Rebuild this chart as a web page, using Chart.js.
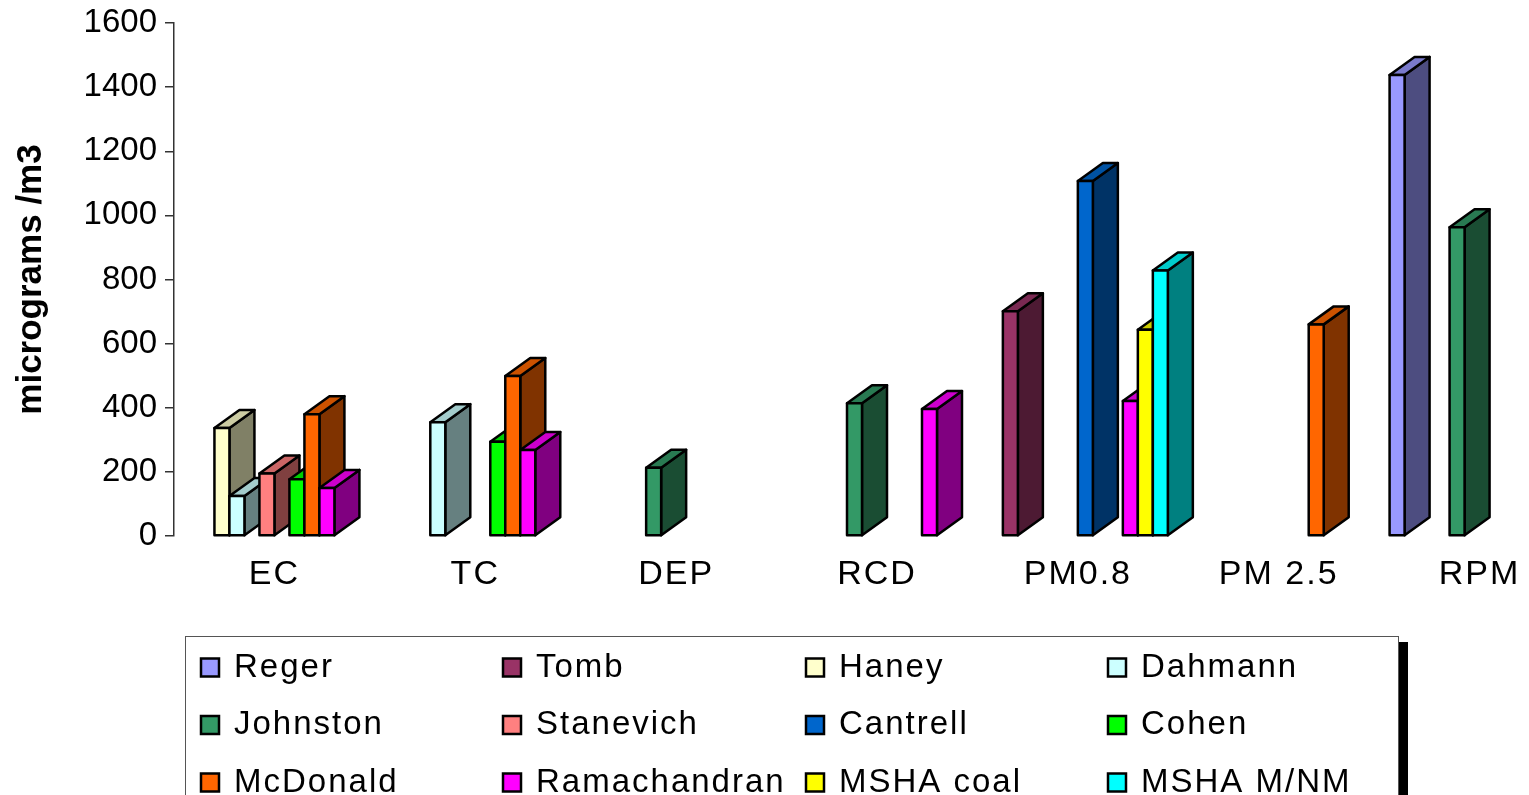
<!DOCTYPE html>
<html>
<head>
<meta charset="utf-8">
<title>Particulate concentrations by study</title>
<script src="https://cdn.jsdelivr.net/npm/chart.js@4.4.1/dist/chart.umd.min.js"></script>
<style>
  html, body { margin: 0; padding: 0; background: #fff; overflow: hidden; }
  canvas { display: block; }
</style>
</head>
<body>
<canvas id="chart" width="1600" height="795"></canvas>
<script>
// Measurement categories along the horizontal axis
const categories = ['EC', 'TC', 'DEP', 'RCD', 'PM0.8', 'PM 2.5', 'RPM'];

// Concentrations (micrograms / m3) per study, one entry per category; null = not measured
const reger        = [null, null, null, null, null, null, 1438];
const tomb         = [null, null, null, null, 701,  null, null];
const haney        = [337,  null, null, null, null, null, null];
const dahmann      = [125,  355,  null, null, null, null, null];
const johnston     = [null, null, 213,  414,  null, null, 963];
const stanevich    = [195,  null, null, null, null, null, null];
const cantrell     = [null, null, null, null, 1107, null, null];
const cohen        = [177,  294,  null, null, null, null, null];
const mcdonald     = [380,  499,  null, null, null, 660,  null];
const ramachandran = [150,  268,  null, 396,  421,  null, null];
const mshaCoal     = [null, null, null, null, 643,  null, null];
const mshaMNM      = [null, null, null, null, 828,  null, null];

const seriesNames = ['Reger', 'Tomb', 'Haney', 'Dahmann', 'Johnston', 'Stanevich',
                     'Cantrell', 'Cohen', 'McDonald', 'Ramachandran', 'MSHA coal', 'MSHA M/NM'];
const seriesValues = [reger, tomb, haney, dahmann, johnston, stanevich,
                      cantrell, cohen, mcdonald, ramachandran, mshaCoal, mshaMNM];

// Value axis ticks
const yTickValues = [0, 200, 400, 600, 800, 1000, 1200, 1400, 1600];

// Front-face colours of each series
const frontColors = ['#9999FF', '#993366', '#FFFFCC', '#CCFFFF', '#339966', '#FF8080',
                     '#0066CC', '#00FF00', '#FF6600', '#FF00FF', '#FFFF00', '#00FFFF'];

const FONT = "'Liberation Sans', Arial, Helvetica, sans-serif";

function shade(hex, f) {
  const n = parseInt(hex.slice(1), 16);
  const r = Math.round(((n >> 16) & 255) * f);
  const g = Math.round(((n >> 8) & 255) * f);
  const b = Math.round((n & 255) * f);
  return 'rgb(' + r + ',' + g + ',' + b + ')';
}

// Category axis whose labels are drawn with a little extra tracking
class SpacedCategoryScale extends Chart.CategoryScale {
  drawLabels(chartArea) {
    const ctx = this.ctx;
    ctx.save();
    ctx.letterSpacing = '2px';
    super.drawLabels(chartArea);
    ctx.restore();
  }
}
SpacedCategoryScale.id = 'spacedCategory';
SpacedCategoryScale.defaults = Chart.CategoryScale.defaults;
Chart.register(SpacedCategoryScale);

// Extruded 3-D look: side and top faces added behind/above every bar,
// drawn series by series so that bars further right overlap their neighbours.
const DEPTH_X = 25, DEPTH_Y = -18;
function fillPoly(ctx, pts, color) {
  ctx.beginPath();
  ctx.moveTo(pts[0][0], pts[0][1]);
  for (let k = 1; k < pts.length; k++) ctx.lineTo(pts[k][0], pts[k][1]);
  ctx.closePath();
  ctx.fillStyle = color;
  ctx.fill();
  ctx.stroke();
}
const extrudedBars = {
  id: 'extrudedBars',
  afterDatasetsDraw(chart) {
    const ctx = chart.ctx;
    ctx.save();
    ctx.lineWidth = 2.5;
    ctx.lineJoin = 'round';
    ctx.strokeStyle = '#000';
    chart.data.datasets.forEach((ds, i) => {
      const meta = chart.getDatasetMeta(i);
      if (meta.hidden) return;
      const front = frontColors[i];
      const side = shade(front, 0.5);
      const top = shade(front, 0.8);
      meta.data.forEach((bar, j) => {
        if (ds.data[j] === null || ds.data[j] === undefined) return;
        const p = bar.getProps(['x', 'y', 'base', 'width'], true);
        const l = p.x - p.width / 2, r = p.x + p.width / 2;
        const t = p.y, b = p.base;
        fillPoly(ctx, [[r, t], [r + DEPTH_X, t + DEPTH_Y], [r + DEPTH_X, b + DEPTH_Y], [r, b]], side);
        fillPoly(ctx, [[l, t], [l + DEPTH_X, t + DEPTH_Y], [r + DEPTH_X, t + DEPTH_Y], [r, t]], top);
        fillPoly(ctx, [[l, t], [r, t], [r, b], [l, b]], front);
      });
    });
    ctx.restore();
  }
};

// Boxed legend in four columns with a drop shadow on the right
const boxedLegend = {
  id: 'boxedLegend',
  afterDraw(chart) {
    const ctx = chart.ctx;
    const boxL = 185, boxT = 636, boxR = 1398, boxB = 900;
    const colX = [200, 502, 805, 1107];
    const rowY = [667.5, 725, 782.5];
    ctx.save();
    ctx.fillStyle = '#000';
    ctx.fillRect(boxR + 1, boxT + 6, 9, boxB - boxT);
    ctx.fillStyle = '#fff';
    ctx.fillRect(boxL, boxT, boxR - boxL, boxB - boxT);
    ctx.strokeStyle = '#555';
    ctx.lineWidth = 1;
    ctx.strokeRect(boxL + 0.5, boxT + 0.5, boxR - boxL, boxB - boxT);

    ctx.font = '33px ' + FONT;
    ctx.letterSpacing = '2px';
    ctx.textBaseline = 'alphabetic';
    ctx.textAlign = 'left';
    chart.data.datasets.forEach((ds, i) => {
      const cx = colX[i % 4];
      const cy = rowY[Math.floor(i / 4)];
      ctx.fillStyle = ds.backgroundColor;
      ctx.fillRect(cx + 1, cy - 9, 18, 18);
      ctx.strokeStyle = '#000';
      ctx.lineWidth = 2.5;
      ctx.strokeRect(cx + 1, cy - 9, 18, 18);
      ctx.fillStyle = '#000';
      ctx.fillText(ds.label, cx + 34, cy + 9);
    });
    ctx.restore();
  }
};

const datasets = seriesNames.map((name, i) => ({
  label: name,
  data: seriesValues[i],
  backgroundColor: frontColors[i],
  borderColor: '#000',
  borderWidth: 2
}));

new Chart(document.getElementById('chart'), {
  type: 'bar',
  data: { labels: categories, datasets: datasets },
  options: {
    responsive: false,
    animation: false,
    events: [],
    layout: { padding: { top: 23, right: 20, bottom: 0, left: 0 } },
    datasets: { bar: { categoryPercentage: 0.896, barPercentage: 1.0 } },
    plugins: {
      legend: { display: false },
      tooltip: { enabled: false },
      title: { display: false }
    },
    scales: {
      x: {
        type: 'spacedCategory',
        offset: true,
        grid: { display: false, drawTicks: false },
        border: { display: false },
        ticks: {
          color: '#000',
          font: { family: FONT, size: 34 },
          padding: 18,
          maxRotation: 0,
          autoSkip: false
        },
        afterFit(scale) { scale.height = 259; }
      },
      y: {
        min: 0,
        max: 1600,
        afterBuildTicks(scale) { scale.ticks = yTickValues.map(v => ({ value: v })); },
        grid: { display: true, drawOnChartArea: false, drawTicks: true, tickLength: 9, color: '#333', lineWidth: 1.5 },
        border: { display: true, color: '#333', width: 1.5 },
        ticks: {
          color: '#000',
          font: { family: FONT, size: 33 },
          padding: 8,
          callback: (v) => String(v)
        },
        title: {
          display: true,
          text: 'micrograms /m3',
          color: '#000',
          font: { family: FONT, size: 35, weight: 'bold' },
          padding: { top: 10, bottom: 0 }
        },
        afterFit(scale) {
          scale.width = 174;
          scale.paddingTop = 0;
          scale.paddingBottom = 0;
        }
      }
    }
  },
  plugins: [extrudedBars, boxedLegend]
});
</script>
</body>
</html>
